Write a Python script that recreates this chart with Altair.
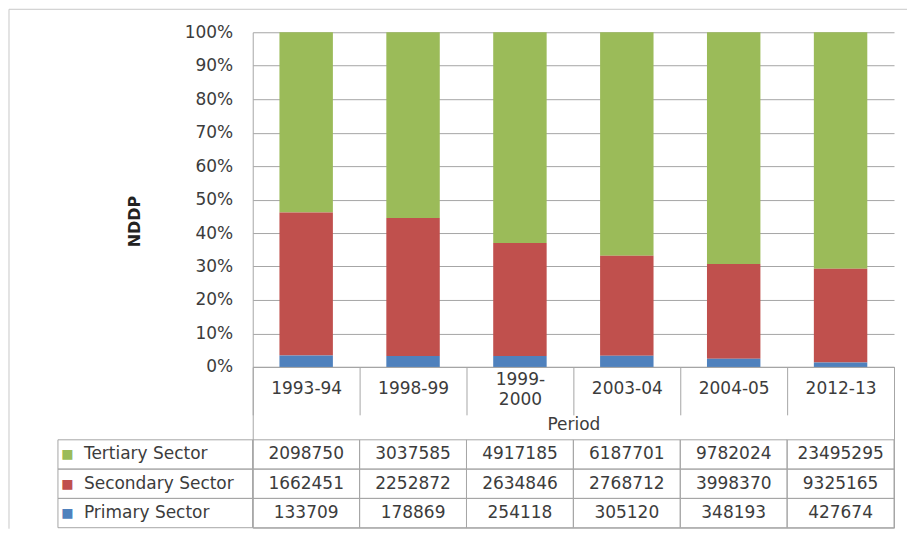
import altair as alt
import pandas as pd

periods = ["1993-94", "1998-99", "1999-2000", "2003-04", "2004-05", "2012-13"]
sectors = ["Tertiary Sector", "Secondary Sector", "Primary Sector"]
tertiary = [2098750, 3037585, 4917185, 6187701, 9782024, 23495295]
secondary = [1662451, 2252872, 2634846, 2768712, 3998370, 9325165]
primary = [133709, 178869, 254118, 305120, 348193, 427674]
sector_colors = ["#9BBB59", "#C0504D", "#4F81BD"]
pct_ticks = [0, 0.1, 0.2, 0.3, 0.4, 0.5, 0.6, 0.7, 0.8, 0.9, 1.0]

series = {"Tertiary Sector": tertiary, "Secondary Sector": secondary, "Primary Sector": primary}
stack_rank = {"Primary Sector": 0, "Secondary Sector": 1, "Tertiary Sector": 2}
rows = []
for s in sectors:
    for p, v in zip(periods, series[s]):
        rows.append({"period": p, "sector": s, "value": v, "rank": stack_rank[s]})
df = pd.DataFrame(rows)
label_df = pd.DataFrame({"sector": sectors, "col": ["label"] * len(sectors)})
period_df = pd.DataFrame({"period": periods})

FONT = "DejaVu Sans"
TXT = "#3c3c3c"
LINE = "#a6a6a6"
W = 642
H_TOP = 335
H_TAB = 161

color = alt.Color("sector:N", scale=alt.Scale(domain=sectors, range=sector_colors), legend=None)

bars = alt.Chart(df).mark_bar().encode(
    x=alt.X("period:N", sort=periods,
            scale=alt.Scale(paddingInner=0.5, paddingOuter=0.25), axis=None),
    y=alt.Y("value:Q", stack="normalize",
            scale=alt.Scale(domain=[0, 1], nice=False),
            axis=alt.Axis(format=".0%", values=pct_ticks, grid=True, gridColor=LINE,
                          domainColor=LINE, ticks=False, labelPadding=20,
                          labelFontSize=17, labelColor=TXT,
                          title="NDDP", titleFontSize=16, titleFontWeight="bold",
                          titleColor="#222222", titleAngle=270, titleX=-118, titleY=189,
                          titleBaseline="middle")),
    color=color,
    order=alt.Order("rank:Q", sort="ascending"),
)

# category axis (header row of the data table)
header = alt.Chart(period_df).mark_tick(opacity=0).encode(
    x=alt.X("period:N", sort=periods,
            scale=alt.Scale(paddingInner=0, paddingOuter=0),
            axis=alt.Axis(title="Period", labelAngle=0, grid=False,
                          domainColor=LINE, tickColor=LINE, tickSize=48, tickBand="extent",
                          labelPadding=-26,
                          labelBaseline={"condition": {"test": "datum.value == '1999-2000'", "value": "bottom"},
                                         "value": "middle"},
                          labelFontSize=17, labelColor=TXT, labelLineHeight=20,
                          labelExpr="datum.label == '1999-2000' ? ['1999-', '2000'] : datum.label",
                          titleFontSize=17, titleFontWeight="normal", titleColor=TXT,
                          titleY=58, titleBaseline="middle")),
)

frame_data = alt.Data(values=[{"k": 1}])
frame_left = alt.Chart(frame_data).mark_rule(color="#c8c8c8").encode(
    x=alt.value(-244), y=alt.value(-23), y2=alt.value(497))
frame_top = alt.Chart(frame_data).mark_rule(color="#c8c8c8").encode(
    x=alt.value(-244), x2=alt.value(655), y=alt.value(-23))

top = alt.layer(frame_left, frame_top, header, bars).resolve_scale(x="independent").properties(
    width=W, height=H_TOP)

y_tab = alt.Y("sector:N", sort=sectors,
              scale=alt.Scale(range=[73, 161], paddingInner=0, paddingOuter=0), axis=None)
x_per = alt.X("period:N", sort=periods, scale=alt.Scale(paddingInner=0, paddingOuter=0), axis=None)
x_col = alt.X("col:N", scale=alt.Scale(range=[-195, 0], paddingInner=0, paddingOuter=0), axis=None)

cells = alt.Chart(df).mark_rect(fillOpacity=0, stroke=LINE, strokeWidth=1).encode(x=x_per, y=y_tab)
values = alt.Chart(df).mark_text(fontSize=17, color=TXT, baseline="middle").encode(
    x=x_per, y=y_tab, text=alt.Text("value:Q", format="d"))
label_cells = alt.Chart(label_df).mark_rect(fillOpacity=0, stroke=LINE, strokeWidth=1).encode(
    x=x_col, y=y_tab)
labels = alt.Chart(label_df).mark_text(fontSize=17, color=TXT, align="left", baseline="middle", dx=-71.5).encode(
    x=x_col, y=y_tab, text="sector:N")
swatches = alt.Chart(label_df).mark_text(fontSize=13, align="center", baseline="middle", dx=-88, text="■").encode(
    x=x_col, y=y_tab, color=color)

table = alt.layer(cells, values, label_cells, labels, swatches).resolve_scale(x="independent").properties(
    width=W, height=H_TAB, view=alt.ViewBackground(stroke=LINE, strokeWidth=1))

chart = alt.vconcat(top, table, spacing=0, bounds="flush", padding=0).configure(
    font=FONT).configure_view(strokeWidth=0)

chart.save("out.html", embed_options={"renderer": "svg", "actions": False})
